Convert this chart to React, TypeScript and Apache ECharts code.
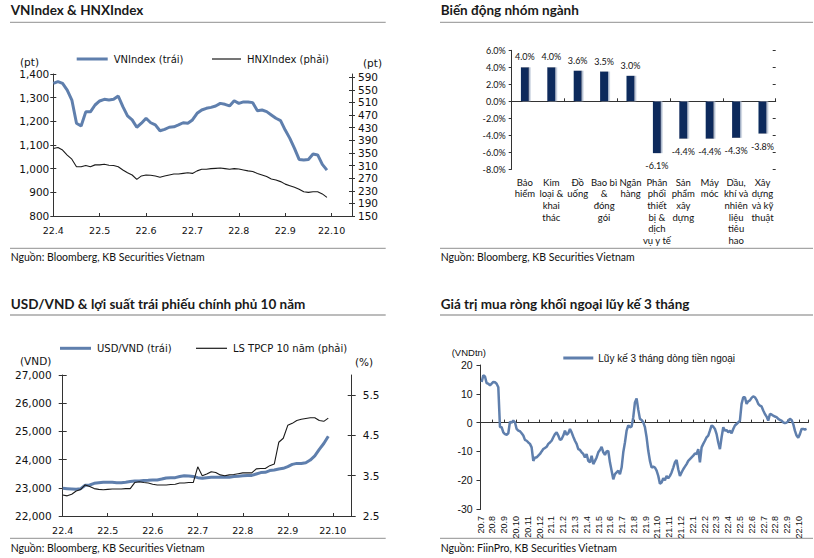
import React, { useEffect, useRef } from 'react';
import * as echarts from 'echarts';

// ---------- Panel 1: VNIndex & HNXIndex (sampled every 0.1 month from 22.4) ----------
const INDEX_STEP = 0.1;
const indexMonthLabels = ['22.4', '22.5', '22.6', '22.7', '22.8', '22.9', '22.10'];
const vnIndex = [
  1360, 1368, 1360, 1332, 1290, 1192, 1180, 1240, 1240, 1269,
  1286, 1293, 1290, 1293, 1307, 1262, 1223, 1206, 1175, 1192,
  1213, 1194, 1185, 1160, 1166, 1175, 1177, 1185, 1194, 1192,
  1206, 1234, 1248, 1255, 1259, 1265, 1276, 1272, 1265, 1287,
  1276, 1282, 1282, 1279, 1245, 1248, 1241, 1227, 1213, 1203,
  1163, 1128, 1086, 1039, 1037, 1039, 1062, 1058, 1018, 994,
];
const hnxIndex = [
  364, 367, 359, 343, 330, 306, 306, 310, 306, 312,
  312, 314, 311, 310, 306, 296, 287, 280, 266, 277,
  280, 279, 277, 273, 277, 280, 283, 283, 285, 287,
  285, 293, 298, 298, 300, 301, 302, 300, 298, 300,
  299, 296, 293, 291, 285, 280, 275, 267, 264, 259,
  251, 246, 241, 235, 227, 225, 227, 227, 220, 209,
];
const hnxTicks = [150, 190, 230, 270, 310, 350, 390, 430, 470, 510, 550, 590];

// ---------- Panel 2: Biến động nhóm ngành ----------
const sectors = [
  'Bảo\nhiểm',
  'Kim\nloại &\nkhai\nthác',
  'Đồ\nuống',
  'Bao bì\n&\nđóng\ngói',
  'Ngân\nhàng',
  'Phân\nphối\nthiết\nbị &\ndịch\nvụ y tế',
  'Sản\nphẩm\nxây\ndựng',
  'Máy\nmóc',
  'Dầu,\nkhí và\nnhiên\nliệu\ntiêu\nhao',
  'Xây\ndựng\nvà kỹ\nthuật',
];
const sectorChange = [4.0, 4.0, 3.6, 3.5, 3.0, -6.1, -4.4, -4.4, -4.3, -3.8];

// ---------- Panel 3: USD/VND & 10Y government bond yield (every 0.1 month) ----------
const FX_STEP = 0.1;
const fxMonthLabels = ['22.4', '22.5', '22.6', '22.7', '22.8', '22.9', '22.10'];
const usdVnd = [
  22980, 22970, 22960, 22950, 22970, 23090, 23100, 23160, 23180, 23195,
  23195, 23195, 23180, 23180, 23195, 23220, 23240, 23240, 23255, 23265,
  23280, 23280, 23310, 23350, 23360, 23360, 23400, 23430, 23420, 23400,
  23360, 23340, 23360, 23370, 23370, 23370, 23370, 23370, 23400, 23410,
  23430, 23440, 23440, 23490, 23540, 23550, 23610, 23630, 23665, 23690,
  23750, 23830, 23865, 23865, 23890, 23985, 24130, 24360, 24570, 24830,
];
const bondYield = [
  3.02, 3.0, 3.04, 3.12, 3.16, 3.27, 3.23, 3.18, 3.16, 3.15,
  3.16, 3.17, 3.17, 3.17, 3.18, 3.18, 3.33, 3.35, 3.33, 3.32,
  3.29, 3.27, 3.27, 3.27, 3.28, 3.29, 3.32, 3.32, 3.33, 3.33,
  3.72, 3.5, 3.54, 3.6, 3.58, 3.52, 3.5, 3.52, 3.53, 3.55,
  3.57, 3.57, 3.57, 3.67, 3.68, 3.68, 3.75, 3.79, 4.33, 4.43,
  4.75, 4.8, 4.87, 4.9, 4.92, 4.94, 4.94, 4.87, 4.85, 4.93,
];
const yieldTicks = [2.5, 3.5, 4.5, 5.5];

// ---------- Panel 4: 3-month cumulative foreign net buying (from 20.7) ----------
const FLOW_START = 0.08;
const FLOW_STEP = 0.1414;
const flowMonthLabels = [
  '20.7', '20.8', '20.9', '20.10', '20.11', '20.12',
  '21.1', '21.2', '21.3', '21.4', '21.5', '21.6', '21.7', '21.8', '21.9', '21.10', '21.11', '21.12',
  '22.1', '22.2', '22.3', '22.4', '22.5', '22.6', '22.7', '22.8', '22.9', '22.10',
];
const foreignFlow = [
  14.1, 16.4, 16.0, 13.7, 13.5, 12.9, 13.5, 14.1, 14.0, 13.5,
  12.3, -1.5, -1.6, -3.4, -4.0, -4.2, -3.7, 0.3, 0.0, 0.7,
  0.1, -2.2, -2.8, -3.0, -3.7, -4.5, -6.0, -6.3, -6.9, -7.4,
  -8.6, -13.3, -12.1, -12.1, -11.5, -10.9, -10.0, -9.2, -8.8, -8.4,
  -7.4, -6.9, -6.3, -5.1, -4.0, -3.4, -4.5, -6.0, -5.7, -4.5,
  -2.8, -4.2, -3.7, -2.2, -3.4, -4.9, -6.3, -7.4, -9.2, -9.5,
  -10.3, -10.9, -12.1, -10.9, -13.3, -13.8, -11.5, -14.4, -13.3, -12.1,
  -10.3, -9.5, -8.4, -10.3, -11.2, -10.0, -9.8, -13.8, -16.7, -19.7,
  -17.9, -17.3, -16.7, -17.9, -15.6, -10.3, -6.9, -2.8, -1.0, -1.6,
  -1.4, 1.9, 7.0, 8.4, 4.5, 1.3, 0.9, 0.1, -1.6, -5.1,
  -9.8,
  -13.3, -15.6, -15.3, -15.6, -16.7, -18.5, -21.2, -20.8, -19.3, -20.0,
  -18.5, -19.3, -18.5, -17.3, -15.6, -13.8, -13.0, -16.2, -18.5, -17.3,
  -16.2, -15.3, -14.4, -13.3, -12.7, -12.1, -11.5, -10.7, -10.9, -9.2,
  -13.8, -8.6, -7.4, -6.3, -5.1, -4.5, -2.8, -1.0, -1.4, -2.2,
  -4.0, -6.9, -9.2, -5.1, -1.6, -2.8, -2.6, -3.4, -2.8, -3.7,
  -2.2, -1.0, -0.5, 0.1, 0.7, 6.5, 8.8, 8.8, 6.5, 7.4,
  7.7, 8.6, 9.1, 8.8, 7.9, 6.5, 5.9, 5.6, 4.2, 3.0,
  2.1, 0.7, 3.0, 2.8, 2.4, 2.1, 1.9, 1.3, 0.9, 0.7,
  0.1, -0.2, 0.0, 0.5, 1.3, 0.9, -0.5, -2.8, -4.5, -5.3,
  -4.0, -2.2, -2.2, -2.4, -2.2,
];

const BLUE = '#5f7fad';
const NAVY = '#0b2b5c';
const AXIS = '#333333';
const TXT = '#111111';
const SEP = '#a6a6a6';
const DV = 'DejaVu Sans';
const LATO = 'Lato';
const LIB = 'Liberation Sans';

const r2 = (v: number) => Math.round(v * 10000) / 10000;

export default function App() {
  const ref = useRef<HTMLDivElement>(null);

  useEffect(() => {
    if (!ref.current) return;
    const chart = echarts.init(ref.current, undefined, { renderer: 'svg' });

    const axisLine = { show: true, lineStyle: { color: AXIS, width: 1 } };
    const noSplit = { show: false };

    const titleText = (text: string, x: number, y: number) => ({
      type: 'text', x, y,
      style: { text, fontSize: 13.5, fontWeight: 'bold', fontFamily: LATO, fill: '#1a1a1a', verticalAlign: 'middle' },
    });
    const sep = (x1: number, x2: number, y: number) => ({
      type: 'line', shape: { x1, y1: y, x2, y2: y }, style: { stroke: SEP, lineWidth: 1.3 },
    });
    const small = (text: string, x: number, y: number, family: string, size: number) => ({
      type: 'text', x, y,
      style: { text, fontSize: size, fontFamily: family, fill: TXT, verticalAlign: 'middle' },
    });

    // an inward-tick copy of a y axis, so ticks cross the axis line as in the reference
    const innerTicks = (base: any) => ({
      ...base,
      axisLine: { show: false },
      axisLabel: { show: false },
      axisTick: { ...base.axisTick, inside: true },
      splitLine: noSplit,
    });

    const legendBase = {
      padding: 0, icon: 'rect', itemGap: 0,
      textStyle: { fontFamily: DV, fontSize: 10, color: TXT, padding: [0, 0, 0, 1] },
    };

    const yAxes: any[] = [
      {
        gridIndex: 0, type: 'value', position: 'left', min: 800, max: 1400, interval: 100,
        axisLine, splitLine: noSplit,
        axisTick: { show: true, length: 3, lineStyle: { color: AXIS } },
        axisLabel: {
          margin: 4, fontFamily: DV, fontSize: 10.5, color: TXT,
          formatter: (v: number) => v.toLocaleString('en-US'),
        },
      },
      {
        gridIndex: 0, type: 'value', position: 'right', min: 150, max: 600,
        axisLine, splitLine: noSplit,
        axisTick: { show: true, length: 3, customValues: hnxTicks, lineStyle: { color: AXIS } },
        axisLabel: { margin: 6, fontFamily: DV, fontSize: 10.5, color: TXT, customValues: hnxTicks },
      },
      {
        gridIndex: 1, type: 'value', min: -8, max: 6, interval: 2,
        axisLine, splitLine: noSplit,
        axisTick: { show: true, length: 3, lineStyle: { color: AXIS } },
        axisLabel: {
          margin: 6, fontFamily: LATO, fontSize: 9, color: TXT,
          formatter: (v: number) => v.toFixed(1) + '%',
        },
      },
      {
        gridIndex: 2, type: 'value', position: 'left', min: 22000, max: 27000, interval: 1000,
        axisLine, splitLine: noSplit,
        axisTick: { show: true, length: 4, lineStyle: { color: AXIS } },
        axisLabel: {
          margin: 11, fontFamily: DV, fontSize: 10.5, color: TXT,
          formatter: (v: number) => v.toLocaleString('en-US'),
        },
      },
      {
        gridIndex: 2, type: 'value', position: 'right', min: 2.5, max: 6,
        axisLine, splitLine: noSplit,
        axisTick: { show: true, length: 4, customValues: yieldTicks, lineStyle: { color: AXIS } },
        axisLabel: {
          margin: 11, fontFamily: DV, fontSize: 10.5, color: TXT, customValues: yieldTicks,
          formatter: (v: number) => v.toFixed(1),
        },
      },
      {
        gridIndex: 3, type: 'value', min: -30, max: 20, interval: 10,
        axisLine, splitLine: noSplit,
        axisTick: { show: true, length: 4, lineStyle: { color: AXIS } },
        axisLabel: { margin: 8, fontFamily: LIB, fontSize: 10.5, color: TXT },
      },
    ];
    const tickCopies = yAxes.map(innerTicks);

    const option: any = {
      animation: false,
      backgroundColor: '#ffffff',
      grid: [
        { left: 53.3, top: 74, width: 298.7, height: 142 },
        { left: 511.7, top: 50.3, width: 264, height: 119 },
        { left: 62.7, top: 375, width: 289, height: 141 },
        { left: 480.7, top: 365, width: 327.6, height: 144 },
      ],
      legend: [
        { ...legendBase, data: ['VNIndex (trái)'], left: 76.7, top: 54, itemWidth: 31, itemHeight: 3 },
        { ...legendBase, data: ['HNXIndex (phải)'], left: 212, top: 54, itemWidth: 29, itemHeight: 1.2 },
        { ...legendBase, data: ['USD/VND (trái)'], left: 60, top: 343.3, itemWidth: 31, itemHeight: 3 },
        { ...legendBase, data: ['LS TPCP 10 năm (phải)'], left: 196, top: 343.3, itemWidth: 31, itemHeight: 1.2 },
        {
          ...legendBase, data: ['Lũy kế 3 tháng dòng tiền ngoại'], left: 563.3, top: 353, itemWidth: 30, itemHeight: 3,
          textStyle: { fontFamily: LIB, fontSize: 10, color: TXT, padding: [0, 0, 0, 0] },
        },
      ],
      xAxis: [
        {
          gridIndex: 0, type: 'value', min: 0, max: 6.44, interval: 1,
          axisLine, splitLine: noSplit,
          axisTick: { show: true, inside: true, length: 3, lineStyle: { color: AXIS } },
          axisLabel: {
            margin: 9, fontFamily: DV, fontSize: 9.5, color: TXT,
            formatter: (v: number) => (Number.isInteger(v) ? indexMonthLabels[v] ?? '' : ''),
          },
        },
        {
          gridIndex: 1, type: 'category', data: sectors, position: 'bottom',
          axisLine: { show: true, onZero: true, onZeroAxisIndex: 2, lineStyle: { color: AXIS } },
          axisTick: { show: true, inside: true, length: 3, lineStyle: { color: AXIS } },
          axisLabel: { show: false }, splitLine: noSplit,
        },
        {
          gridIndex: 1, type: 'category', data: sectors, position: 'bottom',
          axisLine: { show: false, onZero: false }, axisTick: { show: false }, splitLine: noSplit,
          axisLabel: { interval: 0, margin: 7, fontFamily: LATO, fontSize: 9.5, lineHeight: 11.7, color: TXT },
        },
        {
          gridIndex: 2, type: 'value', min: 0, max: 6.42, interval: 1,
          axisLine, splitLine: noSplit,
          axisTick: { show: true, inside: true, length: 3, lineStyle: { color: AXIS } },
          axisLabel: {
            margin: 9, fontFamily: DV, fontSize: 9.5, color: TXT,
            formatter: (v: number) => (Number.isInteger(v) ? fxMonthLabels[v] ?? '' : ''),
          },
        },
        {
          gridIndex: 3, type: 'value', min: 0, max: 27.8, interval: 1, position: 'bottom',
          axisLine: { show: true, onZero: true, onZeroAxisIndex: 5, lineStyle: { color: AXIS } },
          axisTick: { show: true, inside: true, length: 3, lineStyle: { color: AXIS } },
          axisLabel: { show: false }, splitLine: noSplit,
        },
        {
          gridIndex: 3, type: 'value', min: 0, max: 27.8, interval: 1, position: 'bottom',
          axisLine: { show: false, onZero: false }, axisTick: { show: false }, splitLine: noSplit,
          axisLabel: {
            rotate: 90, margin: 7, fontFamily: LIB, fontSize: 9, color: TXT,
            formatter: (v: number) => (Number.isInteger(v) ? flowMonthLabels[v] ?? '' : ''),
          },
        },
      ],
      yAxis: [...yAxes, ...tickCopies],
      series: [
        {
          name: 'VNIndex (trái)', type: 'line', xAxisIndex: 0, yAxisIndex: 0, showSymbol: false, symbol: 'none',
          data: vnIndex.map((v, i) => [r2(i * INDEX_STEP), v]),
          lineStyle: { color: BLUE, width: 3 }, itemStyle: { color: BLUE },
        },
        {
          name: 'HNXIndex (phải)', type: 'line', xAxisIndex: 0, yAxisIndex: 1, showSymbol: false, symbol: 'none',
          data: hnxIndex.map((v, i) => [r2(i * INDEX_STEP), v]),
          lineStyle: { color: '#1a1a1a', width: 1.1 }, itemStyle: { color: '#1a1a1a' },
        },
        {
          name: 'Biến động', type: 'bar', xAxisIndex: 2, yAxisIndex: 2, barWidth: 8,
          data: sectorChange.map((v) => ({
            value: v,
            label: v < 0 ? { position: 'bottom', distance: 8 } : { position: 'top', distance: 6 },
          })),
          itemStyle: { color: NAVY, shadowColor: '#aab8cc', shadowOffsetX: 1.5, shadowOffsetY: 0, shadowBlur: 0.5 },
          label: {
            show: true, fontFamily: LATO, fontSize: 9, color: TXT,
            formatter: (p: any) => p.value.toFixed(1) + '%',
          },
        },
        {
          name: 'USD/VND (trái)', type: 'line', xAxisIndex: 3, yAxisIndex: 3, showSymbol: false, symbol: 'none',
          data: usdVnd.map((v, i) => [r2(i * FX_STEP), v]),
          lineStyle: { color: BLUE, width: 3 }, itemStyle: { color: BLUE },
        },
        {
          name: 'LS TPCP 10 năm (phải)', type: 'line', xAxisIndex: 3, yAxisIndex: 4, showSymbol: false, symbol: 'none',
          data: bondYield.map((v, i) => [r2(i * FX_STEP), v]),
          lineStyle: { color: '#1a1a1a', width: 1.1 }, itemStyle: { color: '#1a1a1a' },
        },
        {
          name: 'Lũy kế 3 tháng dòng tiền ngoại', type: 'line', xAxisIndex: 4, yAxisIndex: 5, showSymbol: false, symbol: 'none',
          data: foreignFlow.map((v, i) => [r2(FLOW_START + i * FLOW_STEP), v]),
          lineStyle: { color: BLUE, width: 2.5 }, itemStyle: { color: BLUE },
        },
      ],
      graphic: [
        titleText('VNIndex & HNXIndex', 10.7, 10),
        titleText('Biến động nhóm ngành', 440.7, 10),
        titleText('USD/VND & lợi suất trái phiếu chính phủ 10 năm', 10.7, 304),
        titleText('Giá trị mua ròng khối ngoại lũy kế 3 tháng', 440.7, 304),
        sep(10, 385.7, 22.3), sep(440, 813, 22.3),
        sep(10, 385.7, 248.3), sep(440, 813, 248.3),
        sep(10, 385.7, 315), sep(440, 813, 315),
        sep(10, 385.7, 538.3), sep(440, 813, 538.3),
        small('Nguồn: Bloomberg, KB Securities Vietnam', 10.7, 256.7, LATO, 10.5),
        small('Nguồn: Bloomberg, KB Securities Vietnam', 440.7, 256.7, LATO, 10.5),
        small('Nguồn: Bloomberg, KB Securities Vietnam', 10.7, 548.3, LATO, 10.5),
        small('Nguồn: FiinPro, KB Securities Vietnam', 440.7, 548.3, LATO, 10.5),
        small('(pt)', 20, 62, DV, 10.5),
        small('(pt)', 363, 63, DV, 10.5),
        small('(VND)', 20, 360.7, DV, 10.5),
        small('(%)', 355, 361.7, DV, 10.5),
        small('(VNDtn)', 451.7, 352.5, LIB, 9.5),
      ],
    };

    chart.setOption(option);
    return () => chart.dispose();
  }, []);

  return (
    <div
      ref={ref}
      style={{ position: 'fixed', left: 0, top: 0, width: 814, height: 558, background: '#fff' }}
    />
  );
}
